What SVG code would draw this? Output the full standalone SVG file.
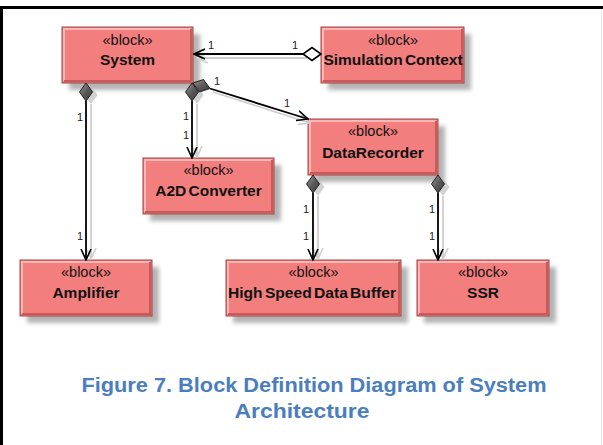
<svg xmlns="http://www.w3.org/2000/svg" width="603" height="445" viewBox="0 0 603 445">
<defs>
  <filter id="blur" x="-20%" y="-20%" width="140%" height="140%"><feGaussianBlur stdDeviation="2"/></filter>
  <linearGradient id="dia" x1="0" y1="0" x2="1" y2="1">
    <stop offset="0" stop-color="#9a9a9a"/>
    <stop offset="0.5" stop-color="#5a5a5a"/>
    <stop offset="1" stop-color="#3a3a3a"/>
  </linearGradient>
  <marker id="arr" viewBox="0 0 12 12" refX="11" refY="6" markerWidth="12" markerHeight="12" markerUnits="userSpaceOnUse" orient="auto">
    <path d="M0,1 L11,6 L0,11" fill="none" stroke="#000" stroke-width="1.6"/>
  </marker>
  <marker id="arrs" viewBox="0 0 12 12" refX="11" refY="6" markerWidth="12" markerHeight="12" markerUnits="userSpaceOnUse" orient="auto">
    <path d="M0,1 L11,6 L0,11" fill="none" stroke="#cfcfcf" stroke-width="1.6"/>
  </marker>
</defs>
<style>
  .shadow { fill: #8c8c8c; opacity: 0.65; filter: url(#blur); }
  .box { fill: #f27e7e; stroke: #a04545; stroke-width: 1; }
  .hi { fill: none; stroke: #f9b8b8; stroke-width: 2; }
  .lo { fill: none; stroke: #c85a5a; stroke-width: 2; }
  .st { font-family: "Liberation Sans", Arial, sans-serif; font-size: 14.5px; fill: #111; text-anchor: middle; }
  .nm { font-family: "Liberation Sans", Arial, sans-serif; font-size: 15.5px; font-weight: bold; fill: #111; text-anchor: middle; word-spacing: -2px; }
  .ln { fill: none; stroke: #000; stroke-width: 1.8; }
  .sh { fill: none; stroke: #cfcfcf; stroke-width: 1.8; }
  .lbl { font-family: "Liberation Sans", Arial, sans-serif; font-size: 11px; fill: #222; text-anchor: middle; }
  .cap { font-family: "Liberation Sans", Arial, sans-serif; font-size: 20px; font-weight: bold; fill: #4a7ebf; text-anchor: middle; }
  .fd { fill: url(#dia); stroke: #222; stroke-width: 1; }
  .od { fill: #fff; stroke: #000; stroke-width: 1.6; }
  .ds { fill: #bdbdbd; opacity: 0.7; }
</style>

<!-- frame -->
<path d="M603,7.5 H1.5 V445" fill="none" stroke="#000" stroke-width="3"/>
<line x1="601.5" y1="9" x2="601.5" y2="445" stroke="#e6e6e6" stroke-width="1"/>

<!-- nodes -->
<g id="system">
  <rect class="shadow" x="69" y="34" width="131" height="56"/>
  <rect class="box" x="62" y="27" width="131" height="56"/>
  <path class="hi" d="M64,81 V29 H191"/>
  <path class="lo" d="M64,81 H191 V29"/>
  <text class="st" x="127.5" y="45">«block»</text>
  <text class="nm" x="127.5" y="65">System</text>
</g>
<g id="simulation-context">
  <rect class="shadow" x="328" y="34" width="143" height="56"/>
  <rect class="box" x="321" y="27" width="143" height="56"/>
  <path class="hi" d="M323,81 V29 H462"/>
  <path class="lo" d="M323,81 H462 V29"/>
  <text class="st" x="393" y="45">«block»</text>
  <text class="nm" x="393" y="65">Simulation Context</text>
</g>
<g id="datarecorder">
  <rect class="shadow" x="315" y="126" width="130" height="56"/>
  <rect class="box" x="308" y="119" width="130" height="56"/>
  <path class="hi" d="M310,173 V121 H436"/>
  <path class="lo" d="M310,173 H436 V121"/>
  <text class="st" x="373" y="136">«block»</text>
  <text class="nm" x="373" y="158">DataRecorder</text>
</g>
<g id="a2dconverter">
  <rect class="shadow" x="150" y="165" width="131" height="56"/>
  <rect class="box" x="143" y="158" width="131" height="56"/>
  <path class="hi" d="M145,212 V160 H272"/>
  <path class="lo" d="M145,212 H272 V160"/>
  <text class="st" x="208.5" y="175">«block»</text>
  <text class="nm" x="208.5" y="196">A2D Converter</text>
</g>
<g id="amplifier">
  <rect class="shadow" x="27" y="267" width="132" height="56"/>
  <rect class="box" x="20" y="260" width="132" height="56"/>
  <path class="hi" d="M22,314 V262 H150"/>
  <path class="lo" d="M22,314 H150 V262"/>
  <text class="st" x="86" y="277">«block»</text>
  <text class="nm" x="86" y="298">Amplifier</text>
</g>
<g id="high-speed-data-buffer">
  <rect class="shadow" x="233" y="267" width="175" height="56"/>
  <rect class="box" x="226" y="260" width="175" height="56"/>
  <path class="hi" d="M228,314 V262 H399"/>
  <path class="lo" d="M228,314 H399 V262"/>
  <text class="st" x="313.5" y="277">«block»</text>
  <text class="nm" x="312" y="298" textLength="168" lengthAdjust="spacingAndGlyphs">High Speed Data Buffer</text>
</g>
<g id="ssr">
  <rect class="shadow" x="424" y="267" width="132" height="56"/>
  <rect class="box" x="417" y="260" width="132" height="56"/>
  <path class="hi" d="M419,314 V262 H547"/>
  <path class="lo" d="M419,314 H547 V262"/>
  <text class="st" x="483" y="277">«block»</text>
  <text class="nm" x="483" y="298">SSR</text>
</g>

<!-- connectors -->
<g id="connectors">
  <!-- shadows -->
  <line class="sh" x1="307" y1="58" x2="197" y2="58" marker-end="url(#arrs)"/>
  <line class="sh" x1="91" y1="104" x2="91" y2="259" marker-end="url(#arrs)"/>
  <line class="sh" x1="197" y1="104" x2="197" y2="157" marker-end="url(#arrs)"/>
  <line class="sh" x1="213" y1="92" x2="310" y2="123" marker-end="url(#arrs)"/>
  <line class="sh" x1="318" y1="196" x2="318" y2="259" marker-end="url(#arrs)"/>
  <line class="sh" x1="443" y1="196" x2="443" y2="259" marker-end="url(#arrs)"/>
  <polygon class="ds" points="91,86 97.5,95 91,104 84.5,95"/>
  <polygon class="ds" points="197,86 203.5,95 197,104 190.5,95"/>
  <polygon class="ds" points="318,178 324.5,187 318,196 311.5,187"/>
  <polygon class="ds" points="443,178 449.5,187 443,196 436.5,187"/>

  <!-- Simulation Context to System (aggregation) -->
  <line class="ln" x1="303" y1="54" x2="194" y2="54" marker-end="url(#arr)"/>
  <polygon class="od" points="321,54 312,60.5 303,54 312,47.5"/>
  <text class="lbl" x="211" y="49">1</text>
  <text class="lbl" x="295" y="49">1</text>

  <!-- System to Amplifier -->
  <line class="ln" x1="86" y1="101" x2="86" y2="260" marker-end="url(#arr)"/>
  <polygon class="fd" points="86,83 92.5,92 86,101 79.5,92"/>
  <text class="lbl" x="80" y="121">1</text>
  <text class="lbl" x="80" y="240">1</text>

  <!-- System to A2DConverter -->
  <line class="ln" x1="192" y1="101" x2="192" y2="158" marker-end="url(#arr)"/>
  <polygon class="fd" points="192,83 198.5,92 192,101 185.5,92"/>
  <text class="lbl" x="186" y="120">1</text>
  <text class="lbl" x="186" y="139">1</text>

  <!-- System to DataRecorder -->
  <line class="ln" x1="210" y1="88.5" x2="308" y2="119" marker-end="url(#arr)"/>
  <polygon class="fd" points="193,83 203.5,79.5 210,88.5 199.5,92"/>
  <text class="lbl" x="217" y="85">1</text>
  <text class="lbl" x="287" y="107">1</text>

  <!-- DataRecorder to High Speed Data Buffer -->
  <line class="ln" x1="313" y1="193" x2="313" y2="260" marker-end="url(#arr)"/>
  <polygon class="fd" points="313,175 319.5,184 313,193 306.5,184"/>
  <text class="lbl" x="306" y="213">1</text>
  <text class="lbl" x="306" y="240">1</text>

  <!-- DataRecorder to SSR -->
  <line class="ln" x1="438" y1="193" x2="438" y2="260" marker-end="url(#arr)"/>
  <polygon class="fd" points="438,175 444.5,184 438,193 431.5,184"/>
  <text class="lbl" x="432" y="213">1</text>
  <text class="lbl" x="432" y="240">1</text>
</g>

<!-- caption -->
<text class="cap" x="314" y="392" textLength="465" lengthAdjust="spacingAndGlyphs">Figure 7. Block Definition Diagram of System</text>
<text class="cap" x="302" y="418" textLength="135" lengthAdjust="spacingAndGlyphs">Architecture</text>
</svg>
